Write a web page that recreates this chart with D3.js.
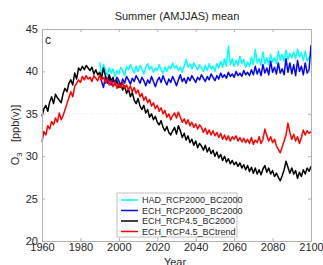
<!DOCTYPE html>
<html><head><meta charset="utf-8">
<script src="https://cdn.jsdelivr.net/npm/d3@7"></script>
<style>body{margin:0;background:#fff}svg{display:block}text{font-family:"Liberation Sans",Arial,sans-serif}</style>
</head><body>
<script>
const title = "Summer (AMJJAS) mean";
const panelLabel = "c";
const xTicks = [1960,1980,2000,2020,2040,2060,2080,2100];
const yTicks = [20,25,30,35,40,45];
const seriesNames = ["HAD_RCP2000_BC2000","ECH_RCP2000_BC2000","ECH_RCP4.5_BC2000","ECH_RCP4.5_BCtrend"];
const seriesColors = ["#00ffff","#0000ff","#000000","#ff0000"];
const startYears = [1990,1990,1960,1960];

const hadRcp2000 = [
41.1,39.6,40.8,40.2,39.5,40.4,39.8,40.3,39.4,40.1,
39.7,40.5,40.1,39.5,40.6,40.2,40.8,40.3,39.8,40.6,
40.0,40.7,40.3,39.7,40.5,40.9,40.2,40.6,39.9,40.4,
40.1,40.8,40.2,39.8,40.5,40.0,40.6,40.3,41.0,40.4,
40.7,40.1,40.5,39.9,40.6,41.4,40.5,40.9,40.3,41.0,
40.6,40.2,40.8,40.4,40.0,40.7,40.1,40.9,40.3,40.6,
40.0,40.9,40.4,41.2,40.5,41.5,40.6,43.0,40.8,41.5,
40.6,41.3,40.7,41.8,40.9,41.4,40.5,41.1,40.6,41.7,
40.8,42.6,41.0,41.5,40.7,42.3,40.9,41.6,40.8,42.0,
41.1,41.6,40.9,42.4,41.3,42.0,41.2,42.5,41.4,42.1,
41.6,42.3,41.5,42.6,41.7,42.2,41.3,42.4,41.2,41.6,
42.0];
const echRcp2000 = [
39.8,38.8,38.1,39.4,38.6,39.2,38.4,39.0,38.7,39.3,
38.9,38.3,39.1,38.6,39.4,39.0,38.5,39.2,38.8,39.5,
39.1,38.6,39.3,38.9,38.3,39.0,38.6,39.4,38.8,38.2,
38.9,39.3,38.7,39.5,38.9,38.4,39.1,38.7,39.4,38.9,
38.3,39.0,39.6,38.8,39.2,38.6,39.3,38.9,39.5,39.1,
38.7,39.3,39.0,39.6,39.2,38.8,39.4,39.0,39.7,39.3,
38.9,39.5,39.1,39.8,39.3,39.6,39.2,39.9,39.4,39.7,
39.3,40.0,39.5,39.8,39.4,40.1,39.6,39.9,39.5,40.2,
39.6,40.6,39.7,40.3,39.5,40.8,39.8,40.4,39.6,41.2,
39.9,40.5,39.7,41.0,39.8,40.3,39.6,41.5,39.9,41.0,
39.7,40.8,39.5,41.3,40.0,40.6,39.6,41.0,39.8,40.2,
43.1];
const echRcp45Bc2000 = [
34.7,35.6,36.0,35.3,36.4,37.0,36.2,37.3,36.9,36.6,
36.3,37.4,38.0,37.6,38.6,39.0,38.4,39.8,39.1,40.4,
40.1,40.6,40.2,40.7,40.4,40.1,40.5,39.7,40.2,39.6,
39.9,39.2,40.4,39.5,38.8,39.6,38.9,39.3,38.4,38.9,
38.1,38.6,37.8,38.3,37.4,37.9,37.0,37.5,36.6,36.2,
36.8,35.9,35.5,36.0,35.1,35.5,34.6,35.0,34.3,34.7,
34.0,33.7,34.2,33.4,33.0,33.5,32.8,32.5,33.0,33.4,
32.6,33.6,33.0,32.2,32.7,31.9,32.4,31.6,32.0,31.3,
31.8,31.0,31.5,31.2,30.7,31.3,30.5,31.0,30.3,30.7,
30.0,30.5,29.8,30.2,29.5,30.0,29.3,29.7,29.1,29.5,
29.0,29.3,28.8,29.2,28.6,29.0,28.4,28.9,28.2,28.7,
28.0,28.6,27.9,28.4,27.8,28.5,28.9,28.1,28.6,27.9,
28.3,27.6,28.0,27.5,27.1,27.7,28.4,29.4,28.7,28.0,
28.6,27.9,28.3,27.4,28.1,27.6,28.4,27.9,28.6,28.2,
28.8];
const echRcp45BcTrend = [
31.7,32.9,32.5,33.6,33.2,34.1,33.7,34.5,34.0,35.1,
34.3,34.8,35.5,36.2,36.9,37.6,37.0,38.2,38.6,39.0,
38.7,39.4,39.0,39.5,39.1,39.3,38.8,39.5,39.2,38.9,
39.6,39.0,39.3,38.6,39.2,38.4,38.9,38.2,38.8,38.0,
38.5,38.1,38.7,38.0,38.4,37.8,38.3,37.6,38.1,37.4,
37.8,37.0,37.4,36.6,37.0,36.3,36.7,35.9,36.3,35.6,
36.0,35.3,35.7,35.0,35.4,34.6,35.0,34.3,34.8,35.1,
34.5,35.2,34.6,34.0,34.4,33.8,34.3,33.6,34.0,33.4,
33.8,33.2,33.7,33.4,32.8,33.3,32.6,33.1,32.5,33.0,
32.4,32.8,32.2,32.7,32.0,32.5,31.9,32.4,31.8,32.3,
32.0,32.4,31.8,32.2,31.7,32.1,31.6,32.0,31.5,32.2,
31.4,31.9,31.6,32.3,31.5,32.0,33.2,32.4,31.8,32.3,
31.6,32.0,31.2,30.8,30.4,31.1,31.8,32.5,33.9,32.8,
32.0,32.6,31.8,32.3,31.5,32.2,33.1,32.5,33.0,32.7,
32.9];
const allSeries = [hadRcp2000, echRcp2000, echRcp45Bc2000, echRcp45BcTrend];

const W = 323, H = 265;
const m = {left:42, right:12, top:29, bottom:24};
const svg = d3.select("body").append("svg").attr("width",W).attr("height",H);
const x = d3.scaleLinear().domain([1960,2100]).range([m.left, W-m.right]);
const y = d3.scaleLinear().domain([20,45]).range([H-m.bottom, m.top]);
const axisCol = "#b0b0b0", txtCol = "#262626";

svg.append("rect").attr("x",x(1960)).attr("y",y(45)).attr("width",x(2100)-x(1960)).attr("height",y(20)-y(45)).attr("fill","#fff");

// faint grid line
svg.append("line").attr("x1",x(1960)).attr("x2",x(2100)).attr("y1",y(35)).attr("y2",y(35))
  .attr("stroke","#e0e0e0").attr("stroke-width",0.8).attr("stroke-dasharray","1,2");

const line = d3.line().x(d=>x(d.yr)).y(d=>y(d.v));
allSeries.forEach((s,i)=>{
  const pts = s.map((v,j)=>({yr:startYears[i]+j, v}));
  svg.append("path").datum(pts).attr("d",line).attr("fill","none")
    .attr("stroke",seriesColors[i]).attr("stroke-width",1.5).attr("stroke-linejoin","round");
});

// axes (box with inward ticks)
const tl = 3;
const gB = svg.append("g").attr("transform",`translate(0,${y(20)})`).call(d3.axisBottom(x).tickValues(xTicks).tickFormat(d3.format("d")).tickSizeInner(-tl).tickSizeOuter(0).tickPadding(5));
const gT = svg.append("g").attr("transform",`translate(0,${y(45)})`).call(d3.axisTop(x).tickValues(xTicks).tickFormat("").tickSizeInner(-tl).tickSizeOuter(0));
const gL = svg.append("g").attr("transform",`translate(${x(1960)},0)`).call(d3.axisLeft(y).tickValues(yTicks).tickSizeInner(-tl).tickSizeOuter(0).tickPadding(4));
const gR = svg.append("g").attr("transform",`translate(${x(2100)},0)`).call(d3.axisRight(y).tickValues(yTicks).tickFormat("").tickSizeInner(-tl).tickSizeOuter(0));
[gB,gT,gL,gR].forEach(g=>{
  g.selectAll(".domain").attr("stroke",axisCol);
  g.selectAll(".tick line").attr("stroke",axisCol);
  g.selectAll("text").attr("fill",txtCol).style("font-size","11px").style("font-family","Liberation Sans, Arial, sans-serif");
});
gB.selectAll(".tick text").attr("dy","0.45em");

// title
svg.append("text").attr("x",177).attr("y",20).attr("text-anchor","middle").attr("fill",txtCol).style("font-size","11px").text(title);
svg.append("text").attr("x",x(1960)+3).attr("y",y(45)+15).attr("fill",txtCol).style("font-size","12px").text(panelLabel);
svg.append("text").attr("x",175).attr("y",266).attr("text-anchor","middle").attr("fill",txtCol).style("font-size","11px").text("Year");
const yl = svg.append("text").attr("transform",`translate(19,${(y(20)+y(45))/2}) rotate(-90)`).attr("text-anchor","middle").attr("fill",txtCol).style("font-size","11px");
yl.append("tspan").text("O");
yl.append("tspan").attr("dy",3).style("font-size","8px").text("3");
yl.append("tspan").attr("dy",-3).text("  [ppb(v)]").attr("xml:space","preserve").attr("dx",4);

// legend
const lg = svg.append("g").attr("transform","translate(117,193)");
lg.append("rect").attr("width",120).attr("height",44).attr("fill","#fff").attr("stroke",axisCol).attr("stroke-width",0.8);
seriesNames.forEach((n,i)=>{
  const yy = 7 + i*10.5;
  lg.append("line").attr("x1",4).attr("x2",21).attr("y1",yy).attr("y2",yy).attr("stroke",seriesColors[i]).attr("stroke-width",1.5);
  lg.append("text").attr("x",25).attr("y",yy+3.2).attr("fill",txtCol).style("font-size","9px").text(n);
});
</script>
</body></html>
